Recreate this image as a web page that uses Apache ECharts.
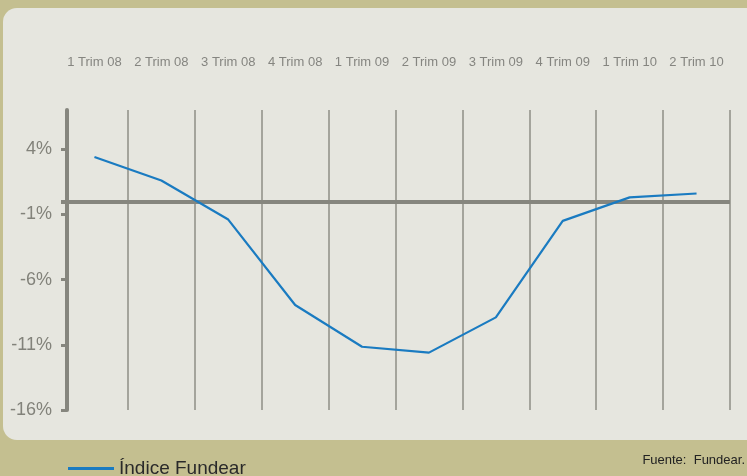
<!DOCTYPE html>
<html>
<head>
<meta charset="utf-8">
<script src="https://cdn.jsdelivr.net/npm/echarts@6/dist/echarts.min.js"></script>
<style>
html,body{margin:0;padding:0;background:#c4bf90;}
#c{width:747px;height:476px;}
</style>
</head>
<body>
<div id="c"></div>
<script>
const categories = ['1 Trim 08','2 Trim 08','3 Trim 08','4 Trim 08','1 Trim 09','2 Trim 09','3 Trim 09','4 Trim 09','1 Trim 10','2 Trim 10'];
const indiceFundear = [3.4, 1.6, -1.4, -7.95, -11.15, -11.6, -8.9, -1.5, 0.3, 0.6];
const seriesName = 'Índice Fundear';
const sourceText = 'Fuente:  Fundear.';

const chart = echarts.init(document.getElementById('c'));
chart.setOption({
  backgroundColor: '#c4bf90',
  animation: false,
  graphic: [
    {type:'rect', z:-10, shape:{x:3, y:8, width:760, height:432, r:14}, style:{fill:'#e6e6df'}},
    {type:'text', right:2, top:454, style:{text:sourceText, font:'13px "Liberation Sans", Arial', fill:'#222'}}
  ],
  legend: {
    left: 63, top: 454,
    itemWidth: 46, itemHeight: 3, itemGap: 2,
    icon: 'rect',
    textStyle: {fontFamily:'"Liberation Sans", Arial', fontSize: 19, color:'#2a2a2a'},
    data: [seriesName]
  },
  grid: {left: 61, right: 17, top: 110, bottom: 66, containLabel: false},
  xAxis: {
    type: 'category',
    position: 'top',
    data: categories,
    boundaryGap: true,
    axisLine: {show: false},
    axisTick: {show: false},
    axisLabel: {interval: 0, margin: 41, color: '#858580', fontSize: 13, fontFamily: '"Liberation Sans", Arial'},
    splitLine: {show: true, interval: function(i){ return i !== 0; }, lineStyle: {color: '#8e8e86', width: 1.5}}
  },
  yAxis: {
    type: 'value',
    min: -16, max: 7, interval: 5,
    offset: -6,
    axisLine: {show: true, lineStyle: {color: '#86867e', width: 4}},
    axisTick: {show: true, length: 6, lineStyle: {color: '#86867e', width: 3}},
    axisLabel: {margin: 15, color: '#82827a', fontSize: 18, fontFamily: '"Liberation Sans", Arial', showMaxLabel: false,
      formatter: function(v){ return v === 7 ? '' : v + '%'; }},
    splitLine: {show: false}
  },
  series: [{
    name: seriesName,
    type: 'line',
    data: indiceFundear,
    symbol: 'none',
    lineStyle: {color: '#1a7bc1', width: 2.2},
    itemStyle: {color: '#1a7bc1'},
    markLine: {
      silent: true, symbol: 'none', label: {show: false},
      lineStyle: {color: '#86867e', width: 4, type: 'solid'},
      data: [{yAxis: 0}]
    },
    z: 5
  }]
});
</script>
</body>
</html>
